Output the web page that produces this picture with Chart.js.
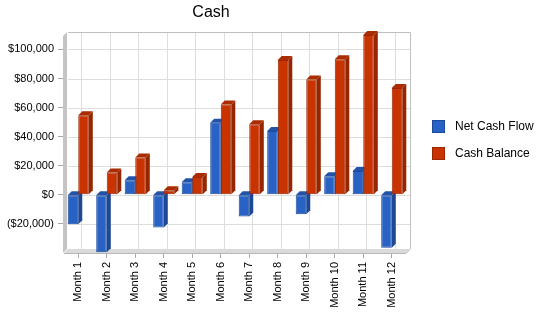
<!DOCTYPE html>
<html>
<head>
<meta charset="utf-8">
<script src="https://cdn.jsdelivr.net/npm/chart.js@4"></script>
<style>
  body { margin: 0; background: #fff; }
  #wrap { width: 550px; height: 318px; position: relative; }
</style>
</head>
<body>
<div id="wrap"><canvas id="cashChart"></canvas></div>
<script>
// data
const months = ['Month 1', 'Month 2', 'Month 3', 'Month 4', 'Month 5', 'Month 6',
                'Month 7', 'Month 8', 'Month 9', 'Month 10', 'Month 11', 'Month 12'];
const netCashFlow = [-20300, -39500, 10000, -22600, 8600, 49500, -15000, 43800, -13400, 12800, 16400, -36400];
const cashBalance = [54800, 15300, 25700, 3100, 12300, 62200, 48600, 92800, 79400, 93200, 110000, 73400];
const yTicks = [-20000, 0, 20000, 40000, 60000, 80000, 100000];
const seriesNames = ['Net Cash Flow', 'Cash Balance'];
const chartTitle = 'Cash';

const FONT = "'Liberation Sans', Arial, sans-serif";
const D = 4; // depth of the 3d look

// darker shades for the sides / tops of the bars
const shades = [
    { front: '#2762c4', edge: '#1c4a9a', side: '#1d4894', top: '#2353a8' },
    { front: '#c83300', edge: '#9a2700', side: '#962600', top: '#aa2c00' }
];

const money = (v) => {
    if (v === 0) return '$0';
    const s = '$' + Math.abs(v).toLocaleString('en-US');
    return v < 0 ? '(' + s + ')' : s;
};

// walls, grid and bar sides drawn behind the bar fronts
const box3d = {
    id: 'box3d',
    beforeDatasetsDraw(chart) {
        const { ctx, chartArea: a, scales: { x, y } } = chart;
        const bl = a.left + D, br = a.right + D, bt = a.top, bb = a.bottom - 1;
        ctx.save();

        // floor
        ctx.fillStyle = '#dadada';
        ctx.beginPath();
        ctx.moveTo(a.left, bb + D);
        ctx.lineTo(bl, bb);
        ctx.lineTo(br, bb);
        ctx.lineTo(a.right, bb + D);
        ctx.closePath();
        ctx.fill();
        ctx.strokeStyle = '#b8b8b8';
        ctx.lineWidth = 1;
        ctx.beginPath();
        ctx.moveTo(a.left, bb + D + 0.5);
        ctx.lineTo(a.right, bb + D + 0.5);
        ctx.lineTo(br, bb + 0.5);
        ctx.stroke();

        // left wall
        ctx.fillStyle = '#c4c4c4';
        ctx.beginPath();
        ctx.moveTo(a.left - 1, bt + D);
        ctx.lineTo(bl - 1, bt);
        ctx.lineTo(bl - 1, bb);
        ctx.lineTo(a.left - 1, bb + D);
        ctx.closePath();
        ctx.fill();

        // grid on the back wall
        ctx.strokeStyle = '#dddddd';
        ctx.beginPath();
        yTicks.forEach(v => {
            const py = Math.round(y.getPixelForValue(v)) + 0.5;
            ctx.moveTo(bl, py);
            ctx.lineTo(br, py);
        });
        months.forEach((m, i) => {
            const px = Math.round(x.getPixelForValue(i)) + 3.5;
            ctx.moveTo(px, bt);
            ctx.lineTo(px, bb);
        });
        ctx.stroke();

        // frame
        ctx.strokeStyle = '#c0c0c0';
        ctx.beginPath();
        ctx.moveTo(bl, bt + 0.5);
        ctx.lineTo(br + 0.5, bt + 0.5);
        ctx.lineTo(br + 0.5, bb);
        ctx.stroke();

        // bar sides and tops
        chart.data.datasets.forEach((ds, di) => {
            const meta = chart.getDatasetMeta(di);
            const c = shades[di];
            meta.data.forEach(el => {
                const p = el.getProps(['x', 'y', 'base', 'width'], true);
                const l = p.x - p.width / 2, r = p.x + p.width / 2;
                const top = Math.min(p.y, p.base), bot = Math.max(p.y, p.base);
                ctx.fillStyle = c.side;
                ctx.beginPath();
                ctx.moveTo(r, top);
                ctx.lineTo(r + D, top - D);
                ctx.lineTo(r + D, bot - D);
                ctx.lineTo(r, bot);
                ctx.closePath();
                ctx.fill();
                ctx.fillStyle = c.top;
                ctx.beginPath();
                ctx.moveTo(l, top);
                ctx.lineTo(l + D, top - D);
                ctx.lineTo(r + D, top - D);
                ctx.lineTo(r, top);
                ctx.closePath();
                ctx.fill();
            });
        });
        ctx.restore();
    },
    afterDraw(chart) {
        const ctx = chart.ctx;
        ctx.save();
        // title, centred over the part left of the legend
        ctx.fillStyle = '#000';
        ctx.font = '16px ' + FONT;
        ctx.textAlign = 'center';
        ctx.textBaseline = 'middle';
        ctx.fillText(chartTitle, 211, 13);

        // legend
        ctx.font = '12px ' + FONT;
        ctx.textAlign = 'left';
        seriesNames.forEach((name, i) => {
            const top = 120 + i * 27;
            ctx.fillStyle = shades[i].front;
            ctx.fillRect(432, top, 13, 13);
            ctx.strokeStyle = shades[i].edge;
            ctx.strokeRect(432.5, top + 0.5, 12, 12);
            ctx.fillStyle = '#000';
            ctx.fillText(name, 455, top + 7);
        });
        ctx.restore();
    }
};

const ctx = document.getElementById('cashChart').getContext('2d');

const data = {
    labels: months,
    datasets: [netCashFlow, cashBalance].map((vals, i) => ({
        label: seriesNames[i],
        data: vals,
        backgroundColor: shades[i].front,
        borderColor: shades[i].edge,
        borderWidth: 1,
        borderSkipped: false,
        clip: false
    }))
};

const chart = new Chart(ctx, {
    type: 'bar',
    data: data,
    options: {
        responsive: true,
        maintainAspectRatio: false,
        animation: false,
        layout: { padding: { top: 32, right: 144, left: 0, bottom: 0 } },
        datasets: {
            bar: { barPercentage: 1, categoryPercentage: 0.74 }
        },
        plugins: {
            legend: { display: false },
            title: { display: false },
            tooltip: { enabled: false }
        },
        scales: {
            x: {
                grid: { offset: false, drawOnChartArea: false, tickLength: 8, color: '#a8a8a8' },
                border: { display: false },
                ticks: {
                    color: '#000',
                    font: { family: FONT, size: 11 },
                    padding: 4,
                    minRotation: 90,
                    maxRotation: 90,
                    autoSkip: false
                },
                afterFit: (scale) => { scale.height = 68; }
            },
            y: {
                min: -38000,
                max: 112000,
                grid: { drawOnChartArea: false, tickLength: 6, color: '#a8a8a8' },
                border: { display: false },
                ticks: {
                    color: '#000',
                    font: { family: FONT, size: 11 },
                    padding: 4,
                    callback: (v) => money(v)
                },
                afterBuildTicks: (scale) => { scale.ticks = yTicks.map(v => ({ value: v })); },
                afterFit: (scale) => { scale.width = 64; }
            }
        }
    },
    plugins: [box3d]
});
</script>
</body>
</html>
